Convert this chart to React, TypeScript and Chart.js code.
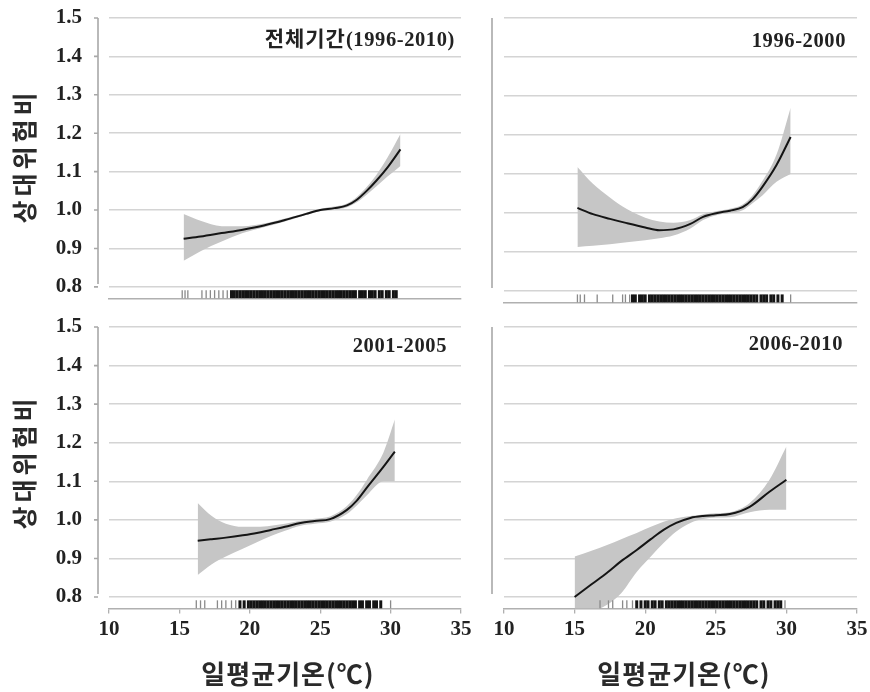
import React, { useEffect, useRef } from "react";
import { Chart, registerables } from "chart.js";

Chart.register(...registerables);

// ---------- data ----------
const yTickValues = [0.8, 0.9, 1.0, 1.1, 1.2, 1.3, 1.4, 1.5];
const xTickValues = [10, 15, 20, 25, 30, 35];
const rugLevel = 0.781;

const panelTitles = ["전체기간(1996-2010)", "1996-2000", "2001-2005", "2006-2010"];
const yAxisTitle = "상대위험비";
const xAxisTitle = "일평균기온(℃)";

// Panel 1: 전체기간 (1996-2010)
const p1X = [15.3, 16.5, 18, 19.5, 21, 22.5, 24, 25, 26, 26.9, 27.6, 28.3, 29, 29.8, 30.7];
const p1Fit = [0.925, 0.931, 0.94, 0.949, 0.96, 0.974, 0.99, 1.0, 1.005, 1.012, 1.027, 1.05, 1.077, 1.112, 1.158];
const p1Upper = [0.99, 0.972, 0.958, 0.958, 0.965, 0.978, 0.993, 1.003, 1.009, 1.017, 1.034, 1.06, 1.092, 1.138, 1.198];
const p1Lower = [0.868, 0.893, 0.918, 0.94, 0.955, 0.97, 0.987, 0.997, 1.001, 1.007, 1.02, 1.04, 1.062, 1.088, 1.115];
const p1RugSparse = [15.2, 15.4, 15.6, 16.6, 16.9, 17.2, 17.5, 17.8, 18.1, 18.4];
const p1RugDense = [18.7, 18.9, 19.1, 19.3, 19.5, 19.7, 19.9, 20.1, 20.3, 20.5, 20.7, 20.9, 21.1, 21.3, 21.5, 21.7, 21.9, 22.1, 22.3, 22.5, 22.7, 22.9, 23.1, 23.3, 23.5, 23.7, 23.9, 24.1, 24.3, 24.5, 24.7, 24.9, 25.1, 25.3, 25.5, 25.7, 25.9, 26.1, 26.3, 26.5, 26.7, 26.9, 27.1, 27.3, 27.5, 27.8, 28.0, 28.2, 28.5, 28.7, 28.9, 29.2, 29.4, 29.7, 29.9, 30.2, 30.4];

// Panel 2: 1996-2000
const p2X = [15.2, 16.3, 17.5, 18.7, 20, 21, 22, 23.2, 24.1, 25.1, 26, 26.9, 27.6, 28.3, 29.3, 30.3];
const p2Fit = [1.013, 0.997, 0.985, 0.974, 0.963, 0.956, 0.958, 0.972, 0.99, 1.0, 1.006, 1.015, 1.035, 1.067, 1.123, 1.195];
const p2Upper = [1.118, 1.075, 1.04, 1.01, 0.988, 0.978, 0.975, 0.982, 0.997, 1.005, 1.011, 1.022, 1.045, 1.082, 1.15, 1.27];
const p2Lower = [0.913, 0.916, 0.92, 0.925, 0.93, 0.935, 0.942, 0.96, 0.982, 0.995, 1.0, 1.007, 1.025, 1.045, 1.08, 1.1];
const p2RugSparse = [15.2, 15.4, 15.7, 16.6, 17.7, 18.4, 18.6, 18.9, 30.3];
const p2RugDense = [19.1, 19.3, 19.6, 19.8, 20.0, 20.3, 20.5, 20.7, 20.9, 21.1, 21.3, 21.5, 21.7, 21.9, 22.1, 22.3, 22.5, 22.7, 22.9, 23.1, 23.3, 23.5, 23.7, 23.9, 24.1, 24.3, 24.5, 24.7, 24.9, 25.1, 25.3, 25.5, 25.7, 25.9, 26.1, 26.3, 26.5, 26.7, 26.9, 27.1, 27.3, 27.5, 27.7, 27.9, 28.2, 28.4, 28.6, 28.9, 29.1, 29.4, 29.7];

// Panel 3: 2001-2005
const p3X = [16.3, 17.3, 18.3, 19.5, 20.5, 21.5, 22.5, 23.6, 24.6, 25.7, 26.9, 27.6, 28.3, 29.5, 30.3];
const p3Fit = [0.946, 0.95, 0.954, 0.96, 0.966, 0.974, 0.982, 0.992, 0.997, 1.002, 1.026, 1.05, 1.083, 1.138, 1.177];
const p3Upper = [1.044, 1.01, 0.99, 0.982, 0.982, 0.985, 0.99, 0.998, 1.003, 1.009, 1.036, 1.065, 1.103, 1.175, 1.26];
const p3Lower = [0.857, 0.885, 0.905, 0.925, 0.942, 0.958, 0.972, 0.985, 0.99, 0.995, 1.015, 1.037, 1.063, 1.1, 1.1];
const p3RugSparse = [16.2, 16.5, 16.8, 17.7, 18.0, 18.3, 18.7, 19.0, 30.0];
const p3RugDense = [19.3, 19.6, 19.9, 20.1, 20.3, 20.5, 20.7, 20.9, 21.1, 21.3, 21.5, 21.7, 21.9, 22.1, 22.3, 22.5, 22.7, 22.9, 23.1, 23.3, 23.5, 23.7, 23.9, 24.1, 24.3, 24.5, 24.7, 24.9, 25.1, 25.3, 25.5, 25.7, 25.9, 26.1, 26.3, 26.5, 26.7, 26.9, 27.1, 27.3, 27.5, 27.8, 28.0, 28.3, 28.5, 28.8, 29.0, 29.3];

// Panel 4: 2006-2010
const p4X = [15, 16.2, 17.3, 18.3, 19.4, 20.4, 21.3, 22.2, 23.2, 24.1, 25, 26, 27.4, 28.8, 30];
const p4Fit = [0.8, 0.833, 0.863, 0.893, 0.922, 0.95, 0.974, 0.992, 1.005, 1.01, 1.012, 1.015, 1.034, 1.073, 1.104];
const p4Upper = [0.905, 0.92, 0.935, 0.95, 0.966, 0.982, 0.995, 1.004, 1.01, 1.014, 1.017, 1.02, 1.044, 1.104, 1.19];
const p4Lower = [0.74, 0.76, 0.78, 0.81, 0.865, 0.905, 0.94, 0.97, 0.992, 1.002, 1.006, 1.007, 1.02, 1.026, 1.026];
const p4RugSparse = [16.8, 17.4, 17.7, 18.4, 18.7, 19.1, 29.9];
const p4RugDense = [19.4, 19.7, 20.0, 20.2, 20.5, 20.7, 21.0, 21.2, 21.5, 21.7, 21.9, 22.1, 22.3, 22.5, 22.7, 22.9, 23.1, 23.3, 23.5, 23.7, 23.9, 24.1, 24.3, 24.5, 24.7, 24.9, 25.1, 25.3, 25.5, 25.7, 25.9, 26.1, 26.3, 26.5, 26.7, 26.9, 27.1, 27.3, 27.5, 27.7, 27.9, 28.2, 28.4, 28.7, 28.9, 29.2, 29.4, 29.6];

// ---------- chart helpers ----------
const SERIF = "'Liberation Serif', 'Times New Roman', serif";
const KFONT = "'Noto Sans CJK KR', 'Noto Sans', sans-serif";

const sideAxisPlugin = {
  id: "sideAxis",
  afterDraw(chart: any, _args: any, opts: any) {
    const { ctx, chartArea, scales } = chart;
    const ys = scales.y;
    const x = chartArea.left - opts.offset;
    const top = ys.getPixelForValue(yTickValues[yTickValues.length - 1]);
    const bottom = ys.getPixelForValue(yTickValues[0]) - 3;
    ctx.save();
    ctx.strokeStyle = opts.color;
    ctx.lineWidth = 1.6;
    ctx.beginPath();
    ctx.moveTo(x, top);
    ctx.lineTo(x, bottom);
    if (opts.ticks) {
      yTickValues.forEach((v) => {
        const py = ys.getPixelForValue(v);
        ctx.moveTo(x - 4, py);
        ctx.lineTo(x, py);
      });
    }
    ctx.stroke();
    ctx.restore();
  },
};

type PanelProps = {
  xs: number[];
  fit: number[];
  upper: number[];
  lower: number[];
  rugSparse: number[];
  rugDense: number[];
  left: number;
  top: number;
  width: number;
  height: number;
  yAxisWidth: number;
  padRight: number;
  padTop: number;
  xAxisHeight: number;
  showY: boolean;
  showX: boolean;
  sideOffset: number;
};

function Panel(p: PanelProps) {
  const ref = useRef<HTMLCanvasElement | null>(null);
  useEffect(() => {
    if (!ref.current) return;
    const toPts = (ys: number[]) => p.xs.map((x, i) => ({ x, y: ys[i] }));
    const rugPts = (arr: number[]) => arr.map((x) => ({ x, y: rugLevel }));
    const chart = new Chart(ref.current, {
      type: "line",
      data: {
        datasets: [
          {
            data: toPts(p.upper),
            borderWidth: 0,
            pointRadius: 0,
            fill: "+1",
            backgroundColor: "#c6c6c6",
            cubicInterpolationMode: "monotone",
            order: 5,
          },
          {
            data: toPts(p.lower),
            borderWidth: 0,
            pointRadius: 0,
            fill: false,
            cubicInterpolationMode: "monotone",
            order: 4,
          },
          {
            data: toPts(p.fit),
            borderColor: "#151515",
            borderWidth: 2,
            pointRadius: 0,
            fill: false,
            cubicInterpolationMode: "monotone",
            order: 1,
          },
          {
            type: "scatter",
            data: rugPts(p.rugDense),
            showLine: false,
            pointStyle: "line",
            rotation: 90,
            pointRadius: 4,
            borderWidth: 3,
            borderColor: "#141414",
            clip: false,
            order: 0,
          } as any,
          {
            type: "scatter",
            data: rugPts(p.rugSparse),
            showLine: false,
            pointStyle: "line",
            rotation: 90,
            pointRadius: 4,
            borderWidth: 1.3,
            borderColor: "#8a8a8a",
            clip: false,
            order: 0,
          } as any,
        ],
      },
      options: {
        animation: false,
        responsive: false,
        maintainAspectRatio: false,
        devicePixelRatio: 1,
        events: [],
        layout: { padding: { left: 0, right: p.padRight, top: p.padTop, bottom: 0 } },
        plugins: {
          legend: { display: false },
          tooltip: { enabled: false },
          title: { display: false },
          sideAxis: { offset: p.sideOffset, ticks: p.showY, color: "#a8a8a8" },
        } as any,
        scales: {
          x: {
            type: "linear",
            min: 10,
            max: 35,
            afterBuildTicks: (s: any) => {
              s.ticks = xTickValues.map((v) => ({ value: v }));
            },
            afterFit: (s: any) => {
              s.height = p.xAxisHeight;
            },
            grid: {
              drawOnChartArea: false,
              drawTicks: p.showX,
              tickLength: 5,
              color: "#b0b0b0",
              lineWidth: 1.3,
            },
            border: { display: true, color: "#b0b0b0", width: 1.6 },
            ticks: {
              display: p.showX,
              padding: 3,
              color: "#222",
              font: { family: SERIF, size: 21, weight: "bold" },
            },
          },
          y: {
            type: "linear",
            min: 0.77,
            max: 1.5,
            afterBuildTicks: (s: any) => {
              s.ticks = yTickValues.map((v) => ({ value: v }));
            },
            afterFit: (s: any) => {
              s.width = p.yAxisWidth;
            },
            grid: {
              color: "#d4d4d4",
              lineWidth: 1.6,
              drawTicks: true,
              tickLength: 26,
              tickColor: "rgba(0,0,0,0)",
            },
            border: { display: false },
            ticks: {
              display: p.showY,
              padding: 1,
              color: "#222",
              font: { family: SERIF, size: 21, weight: "bold" },
              callback: (v: any) => Number(v).toFixed(1),
            },
          },
        },
      } as any,
      plugins: [sideAxisPlugin as any],
    });
    return () => chart.destroy();
  }, []);
  return (
    <canvas
      ref={ref}
      width={p.width}
      height={p.height}
      style={{ position: "absolute", left: p.left, top: p.top, width: p.width, height: p.height }}
    />
  );
}

const titleStyle: React.CSSProperties = {
  position: "absolute",
  fontFamily: SERIF,
  fontWeight: "bold",
  fontSize: 20.5,
  color: "#222",
  whiteSpace: "nowrap",
  transform: "translateY(-50%)",
  letterSpacing: "0.6px",
};

function PanelTitle({ text, right, cy }: { text: string; right: number; cy: number }) {
  const idx = text.indexOf("(");
  const head = idx > 0 ? text.slice(0, idx) : "";
  const tail = idx > 0 ? text.slice(idx) : text;
  return (
    <div style={{ ...titleStyle, right: 870 - right, top: cy }}>
      {head && (
        <span style={{ fontFamily: KFONT, fontSize: 21, fontWeight: 700, letterSpacing: "1px" }}>{head}</span>
      )}
      <span>{tail}</span>
    </div>
  );
}

const yTitleStyle = (cy: number): React.CSSProperties => ({
  position: "absolute",
  left: 23,
  top: cy,
  transform: "translate(-50%, -50%) rotate(-90deg)",
  fontFamily: KFONT,
  fontSize: 25,
  fontWeight: 700,
  letterSpacing: "4px",
  color: "#2a2a2a",
  whiteSpace: "nowrap",
});

const xTitleStyle = (cx: number): React.CSSProperties => ({
  position: "absolute",
  left: cx,
  top: 672,
  transform: "translate(-50%, -50%)",
  fontFamily: KFONT,
  fontSize: 26,
  fontWeight: 700,
  letterSpacing: "1px",
  color: "#2a2a2a",
  whiteSpace: "nowrap",
});

export default function App() {
  return (
    <div
      style={{
        position: "absolute",
        left: 0,
        top: 0,
        width: 870,
        height: 692,
        background: "#fff",
        overflow: "hidden",
      }}
    >
      <Panel xs={p1X} fit={p1Fit} upper={p1Upper} lower={p1Lower} rugSparse={p1RugSparse} rugDense={p1RugDense}
        left={0} top={0} width={480} height={312} yAxisWidth={109} padRight={19} padTop={18} xAxisHeight={9.3}
        showY={true} showX={false} sideOffset={11} />
      <Panel xs={p2X} fit={p2Fit} upper={p2Upper} lower={p2Lower} rugSparse={p2RugSparse} rugDense={p2RugDense}
        left={385} top={0} width={490} height={312} yAxisWidth={119} padRight={18} padTop={18} xAxisHeight={9.3}
        showY={false} showX={false} sideOffset={12} />
      <Panel xs={p3X} fit={p3Fit} upper={p3Upper} lower={p3Lower} rugSparse={p3RugSparse} rugDense={p3RugDense}
        left={0} top={312} width={480} height={358} yAxisWidth={109} padRight={19} padTop={15} xAxisHeight={61.4}
        showY={true} showX={true} sideOffset={11} />
      <Panel xs={p4X} fit={p4Fit} upper={p4Upper} lower={p4Lower} rugSparse={p4RugSparse} rugDense={p4RugDense}
        left={385} top={312} width={490} height={358} yAxisWidth={119} padRight={18} padTop={15} xAxisHeight={61.4}
        showY={false} showX={true} sideOffset={12} />

      <PanelTitle text={panelTitles[0]} right={455} cy={37} />
      <PanelTitle text={panelTitles[1]} right={846} cy={40} />
      <PanelTitle text={panelTitles[2]} right={447} cy={345} />
      <PanelTitle text={panelTitles[3]} right={843} cy={343} />

      <div style={yTitleStyle(156)}>{yAxisTitle}</div>
      <div style={yTitleStyle(462)}>{yAxisTitle}</div>

      <div style={xTitleStyle(288)}>{xAxisTitle}</div>
      <div style={xTitleStyle(684)}>{xAxisTitle}</div>
    </div>
  );
}
